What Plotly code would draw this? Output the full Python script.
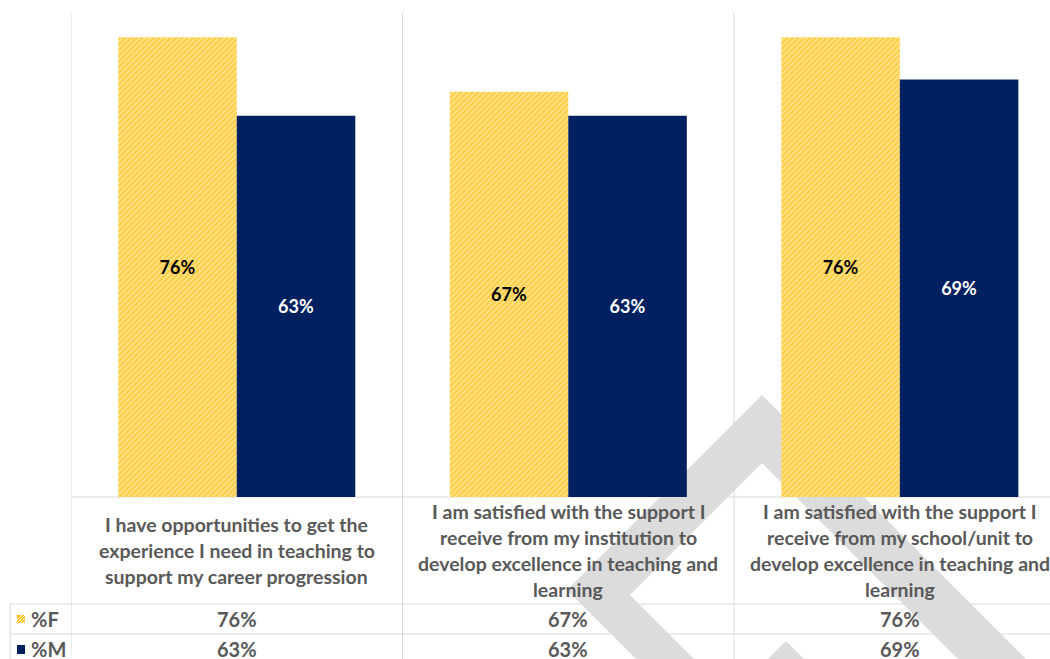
import plotly.graph_objects as go

# ---- data ----
categories = [
    "I have opportunities to get the<br>experience I need in teaching to<br>support my career progression",
    "I am satisfied with the support I<br>receive from my institution to<br>develop excellence in teaching and<br>learning",
    "I am satisfied with the support I<br>receive from my school/unit to<br>develop excellence in teaching and<br>learning",
]
series_names = ["%F", "%M"]
pct_female = [76, 67, 76]
pct_male = [63, 63, 69]

# ---- styling ----
FONT = "Lato"
GOLD = "#FFC000"
NAVY = "#002060"
GREY_TEXT = "#595959"
RULE = "#D9D9D9"
WATERMARK = "#DCDCDC"

W, H = 1050, 659
L, T, B, R = 71, 13, 162, 0
PW, PH = W - L - R, H - T - B


def xp(px):
    """pixel column -> paper x"""
    return (px - L) / PW


def yp(py):
    """pixel row -> paper y"""
    return (T + PH - py) / PH


keys = [f"c{i}" for i in range(len(categories))]

fig = go.Figure()
fig.add_trace(go.Bar(
    name=series_names[0], x=keys, y=pct_female,
    marker=dict(color="#FFE48F", line=dict(width=0),
                pattern=dict(shape="/", fgcolor="#FFB800", bgcolor="#FFE48F",
                             size=4, solidity=0.6)),
    texttemplate="<b>%{y}%</b>", textposition="inside",
    insidetextanchor="middle", textangle=0,
    textfont=dict(family=FONT, size=18, color="black"),
))
fig.add_trace(go.Bar(
    name=series_names[1], x=keys, y=pct_male,
    marker=dict(color=NAVY, line=dict(width=0)),
    texttemplate="<b>%{y}%</b>", textposition="inside",
    insidetextanchor="middle", textangle=0,
    textfont=dict(family=FONT, size=18, color="white"),
))

shapes = []

# faint diagonal watermark behind everything
def poly(points):
    d = "M " + " L ".join(f"{xp(x):.5f},{yp(y):.5f}" for x, y in points) + " Z"
    return dict(type="path", xref="paper", yref="paper", path=d,
                fillcolor=WATERMARK, line=dict(width=0), layer="below")

shapes.append(poly([(657, 680), (567, 590), (762, 395), (1047, 680),
                    (979, 680), (762, 463), (630, 595), (715, 680)]))
shapes.append(poly([(786, 641), (825, 680), (747, 680)]))

# category separators running through the table
for b in [-0.5, 0.5, 1.5]:
    shapes.append(dict(type="line", xref="x", yref="paper", x0=b, x1=b,
                       y0=yp(H + 5), y1=1, line=dict(color=RULE, width=1),
                       layer="below"))
# baseline and table rows
for py, x0 in [(497, L), (604, 10), (634, 10)]:
    shapes.append(dict(type="line", xref="paper", yref="paper",
                       x0=xp(x0), x1=1, y0=yp(py), y1=yp(py),
                       line=dict(color=RULE, width=1), layer="below"))
shapes.append(dict(type="line", xref="paper", yref="paper",
                   x0=xp(10), x1=xp(10), y0=yp(604), y1=yp(H + 5),
                   line=dict(color=RULE, width=1), layer="below"))

# legend keys inside the table: hatched gold and solid navy squares
shapes.append(dict(type="rect", xref="paper", yref="paper",
                   x0=xp(17), x1=xp(25), y0=yp(623), y1=yp(615),
                   fillcolor=GOLD, line=dict(width=0), layer="above"))
for off in [-3, 0, 3, 6]:
    shapes.append(dict(type="line", xref="paper", yref="paper",
                       x0=xp(max(17, 17 + off)), x1=xp(min(25, 17 + off + 8)),
                       y0=yp(623 - max(0, -off)), y1=yp(615 + max(0, off)),
                       line=dict(color="white", width=1), layer="above"))
shapes.append(dict(type="rect", xref="paper", yref="paper",
                   x0=xp(17), x1=xp(25), y0=yp(654), y1=yp(645),
                   fillcolor=NAVY, line=dict(width=0), layer="above"))

annotations = []
LINE_GAP = 26
HEADER_MID = (497 + 604) / 2
HEADER_FONT = dict(family=FONT, size=19.5, color=GREY_TEXT)
TABLE_FONT = dict(family=FONT, size=20, color=GREY_TEXT)
for k, label in zip(keys, categories):
    lines = label.split("<br>")
    n = len(lines)
    for i, ln in enumerate(lines):
        cy = HEADER_MID + (i - (n - 1) / 2) * LINE_GAP
        annotations.append(dict(x=k, xref="x", y=yp(cy), yref="paper",
                                text=f"<b>{ln}</b>", showarrow=False,
                                xanchor="center", yanchor="middle",
                                font=HEADER_FONT))

for row_y, name, vals in [(619, series_names[0], pct_female),
                          (649, series_names[1], pct_male)]:
    annotations.append(dict(x=xp(31), xref="paper", y=yp(row_y), yref="paper",
                            text=f"<b>{name}</b>", showarrow=False,
                            xanchor="left", yanchor="middle", xshift=-2,
                            font=TABLE_FONT))
    for k, v in zip(keys, vals):
        annotations.append(dict(x=k, xref="x", y=yp(row_y), yref="paper",
                                text=f"<b>{v}%</b>", showarrow=False,
                                xanchor="center", yanchor="middle",
                                font=TABLE_FONT))

fig.update_layout(
    width=W, height=H, autosize=False,
    margin=dict(l=L, r=R, t=T, b=B, pad=0),
    paper_bgcolor="white", plot_bgcolor="white",
    barmode="group", bargap=0.285, bargroupgap=0,
    showlegend=False,
    xaxis=dict(type="category", range=[-0.5, 2.453], showticklabels=False,
               showgrid=False, zeroline=False, showline=False, ticks=""),
    yaxis=dict(range=[0, 80], visible=False, showgrid=False, zeroline=False),
    shapes=shapes, annotations=annotations,
    font=dict(family=FONT, color=GREY_TEXT),
)

fig.write_html("out.html", config={"displayModeBar": False})
